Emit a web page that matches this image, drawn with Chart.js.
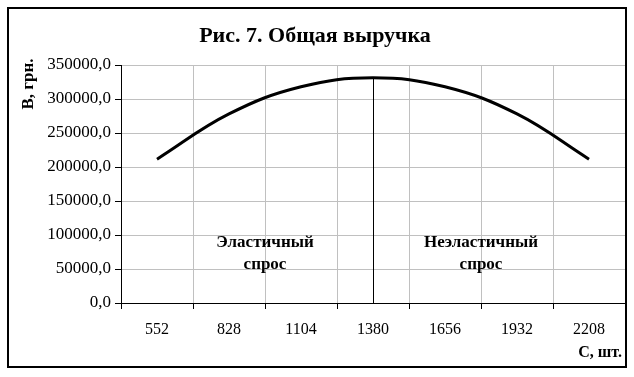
<!DOCTYPE html>
<html>
<head>
<meta charset="utf-8">
<script src="https://cdn.jsdelivr.net/npm/chart.js@4/dist/chart.umd.min.js"></script>
<style>
    html, body { margin: 0; padding: 0; background: #ffffff; }
    #wrap { position: relative; width: 634px; height: 377px; }
</style>
</head>
<body>
<div id="wrap"><canvas id="revenueChart" width="634" height="377"></canvas></div>
<script>
// Рис. 7 - Общая выручка
const quantities = ['552', '828', '1104', '1380', '1656', '1932', '2208'];
const revenue = [211500, 278000, 318000, 331200, 318000, 278000, 211500];
const yTicks = [0, 50000, 100000, 150000, 200000, 250000, 300000, 350000];
const yTickLabels = ['0,0', '50000,0', '100000,0', '150000,0', '200000,0', '250000,0', '300000,0', '350000,0'];
const peakIndex = 3;
const zoneLabels = [['Эластичный', 'спрос'], ['Неэластичный', 'спрос']];
const zoneSpots = [1.5, 4.5];

const serif = "'Liberation Serif', 'Times New Roman', serif";

// Frame, title, axis names, drop line and zone captions
const decorPlugin = {
    id: 'decor',
    beforeDraw: function(chart) {
        const ctx = chart.ctx;
        ctx.save();
        ctx.fillStyle = '#ffffff';
        ctx.fillRect(0, 0, chart.width, chart.height);
        ctx.restore();
    },
    afterDatasetsDraw: function(chart) {
        const ctx = chart.ctx;
        const x = chart.scales.x;
        const y = chart.scales.y;
        ctx.save();

        // vertical line at the revenue maximum
        const px = Math.round(x.getPixelForValue(peakIndex)) + 0.5;
        ctx.strokeStyle = '#000000';
        ctx.lineWidth = 1;
        ctx.beginPath();
        ctx.moveTo(px, y.getPixelForValue(revenue[peakIndex]));
        ctx.lineTo(px, y.getPixelForValue(0));
        ctx.stroke();

        // zone captions
        ctx.fillStyle = '#000000';
        ctx.font = 'bold 17px ' + serif;
        ctx.textAlign = 'center';
        ctx.textBaseline = 'middle';
        zoneLabels.forEach(function(lines, i) {
            const cx = x.getPixelForValue(zoneSpots[i]);
            ctx.fillText(lines[0], cx, y.getPixelForValue(89000));
            ctx.fillText(lines[1], cx, y.getPixelForValue(57000));
        });

        // title
        ctx.font = 'bold 22px ' + serif;
        ctx.fillText('Рис. 7. Общая выручка', 315, 36);

        // y axis name
        ctx.save();
        ctx.translate(29, 84);
        ctx.rotate(-Math.PI / 2);
        ctx.font = 'bold 17px ' + serif;
        ctx.fillText('В, грн.', 0, 0);
        ctx.restore();

        // x axis name
        ctx.font = 'bold 16px ' + serif;
        ctx.textAlign = 'right';
        ctx.fillText('С, шт.', 622, 353);

        // outer frame
        ctx.lineWidth = 2;
        ctx.strokeRect(8, 8, 618, 359);
        ctx.restore();
    }
};

const ctx = document.getElementById('revenueChart').getContext('2d');
const revenueChart = new Chart(ctx, {
    type: 'line',
    data: {
        labels: quantities,
        datasets: [{
            label: 'Общая выручка',
            data: revenue,
            borderColor: '#000000',
            borderWidth: 3,
            pointRadius: 0,
            fill: false,
            tension: 0.4
        }]
    },
    options: {
        responsive: false,
        animation: false,
        events: [],
        layout: {
            padding: { top: 65, left: 8, right: 9, bottom: 14 }
        },
        plugins: {
            legend: { display: false },
            title: { display: false },
            tooltip: { enabled: false }
        },
        scales: {
            x: {
                offset: true,
                grid: {
                    offset: true,
                    color: '#c0c0c0',
                    tickColor: '#000000',
                    tickLength: 6
                },
                border: { color: '#000000', width: 1 },
                ticks: {
                    color: '#000000',
                    font: { family: serif, size: 16 },
                    padding: 11,
                    maxRotation: 0
                },
                afterFit: function(scale) { scale.height = 60; }
            },
            y: {
                min: 0,
                max: 350000,
                afterBuildTicks: function(scale) {
                    scale.ticks = yTicks.map(function(v) { return { value: v }; });
                },
                grid: {
                    color: '#c0c0c0',
                    tickColor: '#000000',
                    tickLength: 6
                },
                border: { color: '#000000', width: 1 },
                ticks: {
                    color: '#000000',
                    font: { family: serif, size: 17 },
                    padding: 4,
                    callback: function(value, index) {
                        return yTickLabels[index];
                    }
                },
                afterFit: function(scale) { scale.width = 113; }
            }
        }
    },
    plugins: [decorPlugin]
});
</script>
</body>
</html>
